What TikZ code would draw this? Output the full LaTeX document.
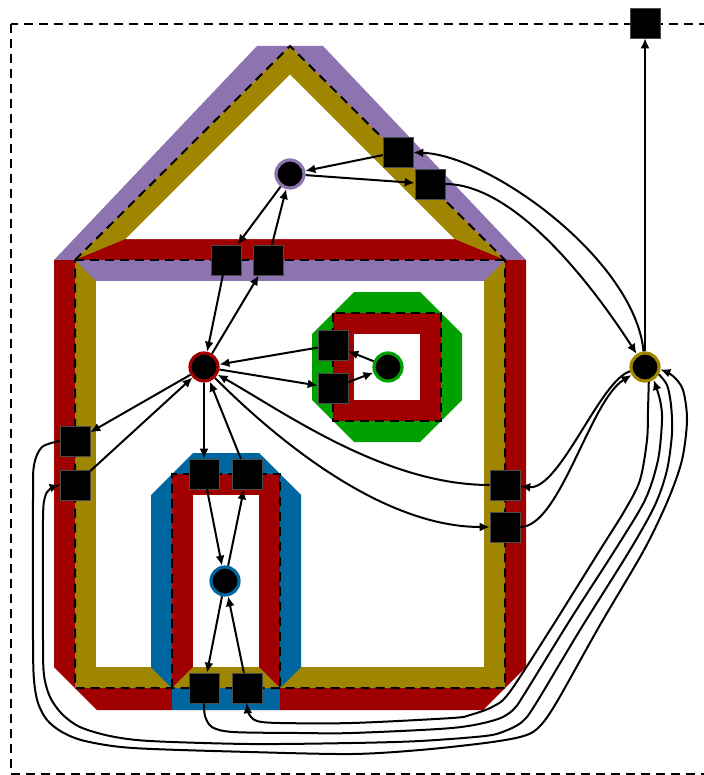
\documentclass[tikz,border=0pt]{standalone}
\usepackage{tikz}
\usetikzlibrary{arrows.meta}
\definecolor{roofc}{HTML}{8D74B0}
\definecolor{bodyc}{HTML}{A00000}
\definecolor{outc}{HTML}{A08600}
\definecolor{winc}{HTML}{00A000}
\definecolor{doorc}{HTML}{0066A0}
\tikzset{
  plan diagram/.style={
    x=0.5pt, y=-0.5pt,
    >={Latex[length=5pt,width=4.5pt]},
    line join=miter
  },
  facenode/.style={
    circle,
    fill=black,
    line width=1.6pt,
    minimum size=14pt,
    inner sep=0pt
  },
  roofnode/.style={facenode, draw=roofc},
  bodynode/.style={facenode, draw=bodyc},
  windownode/.style={facenode, draw=winc},
  doornode/.style={facenode, draw=doorc},
  outnode/.style={facenode, draw=outc},
  dartbox/.style={
    fill=black,
    draw=black!70,
    line width=0.3pt,
    minimum size=15pt,
    inner sep=0pt
  },
  flowarrow/.style={
    ->,
    draw=black,
    line width=1pt
  },
  borderline/.style={
    draw=black,
    line width=1pt,
    dash pattern=on 4.5pt off 3pt
  }
}
\begin{document}
\begin{tikzpicture}[plan diagram]
\useasboundingbox (0,0) rectangle (704,775);
% strips outside the house
\fill[roofc] (54,260) -- (257,46) -- (323,46) -- (526,260) -- (505,260) -- (290,46) -- (75,260) -- cycle;
\fill[bodyc] (54,260) -- (526,260) -- (526,667) -- (483,710) -- (97,710) -- (54,667) -- cycle;
\fill[doorc] (172,688) rectangle (280,710);
% roof
\fill[outc] (75,260) -- (290,46) -- (505,260) -- cycle;
\fill[bodyc] (75,260) -- (505,260) -- (454.3,239) -- (125.7,239) -- cycle;
\fill[white] (125.7,239) -- (290,74.7) -- (454.3,239) -- cycle;
% body
\fill[outc] (75,260) rectangle (505,688);
\fill[roofc] (75,260) -- (505,260) -- (484,281) -- (96,281) -- cycle;
\fill[white] (96,281) rectangle (484,667);
% door
\fill[doorc] (151,667) -- (151,495) -- (193,453) -- (259,453) -- (301,495) -- (301,667) -- (280,688) -- (172,688) -- cycle;
\fill[bodyc] (172,474) rectangle (280,688);
\fill[outc] (172,688) -- (193,667) -- (259,667) -- (280,688) -- cycle;
\fill[white] (193,495) rectangle (259,667);
% window
\fill[winc] (354,292) -- (420,292) -- (462,334) -- (462,400) -- (420,442) -- (354,442) -- (312,400) -- (312,334) -- cycle;
\fill[bodyc] (333,313) rectangle (441,421);
\fill[white] (354,334) rectangle (420,400);
% boundaries
\draw[borderline] (75,260) -- (290,46) -- (505,260) -- (505,688) -- (75,688) -- cycle;
\draw[borderline] (75,260) -- (505,260);
\draw[borderline] (172,688) -- (172,474) -- (280,474) -- (280,688);
\draw[borderline] (333,313) rectangle (441,421);
\draw[borderline] (11,24) rectangle (712,774);

\node[roofnode] (roof) at (290,174) {};
\node[bodynode] (body) at (204,367) {};
\node[windownode] (window) at (388,367) {};
\node[doornode] (door) at (225,581) {};
\node[outnode] (outside) at (645,367) {};

\node[dartbox] (slopeA) at (398,152) {};
\node[dartbox] (slopeB) at (430,184) {};
\node[dartbox] (eaveA) at (226,260) {};
\node[dartbox] (eaveB) at (268,260) {};
\node[dartbox] (winA) at (333,345) {};
\node[dartbox] (winB) at (333,388) {};
\node[dartbox] (wallA) at (75,441) {};
\node[dartbox] (wallB) at (75,485) {};
\node[dartbox] (lintA) at (204,474) {};
\node[dartbox] (lintB) at (247,474) {};
\node[dartbox] (sillA) at (204,688) {};
\node[dartbox] (sillB) at (247,688) {};
\node[dartbox] (rwallA) at (505,485) {};
\node[dartbox] (rwallB) at (505,527) {};
\node[dartbox] (top) at (645,23) {};

\draw[flowarrow] (slopeA) -- (roof);
\draw[flowarrow] (roof) -- (slopeB);
\draw[flowarrow] (roof) -- (eaveA);
\draw[flowarrow] (eaveA) -- (body);
\draw[flowarrow] (body) -- (eaveB);
\draw[flowarrow] (eaveB) -- (roof);
\draw[flowarrow] (winA) -- (body);
\draw[flowarrow] (body) -- (winB);
\draw[flowarrow] (window) -- (winA);
\draw[flowarrow] (winB) -- (window);
\draw[flowarrow] (body) -- (wallA);
\draw[flowarrow] (wallB) -- (body);
\draw[flowarrow] (body) -- (lintA);
\draw[flowarrow] (lintB) -- (body);
\draw[flowarrow] (lintA) -- (door);
\draw[flowarrow] (door) -- (lintB);
\draw[flowarrow] (door) -- (sillA);
\draw[flowarrow] (sillB) -- (door);
\draw[flowarrow] (outside) -- (top);
\draw[flowarrow] (rwallA) .. controls (385,485) and (284,412) .. (body);
\draw[flowarrow] (body) .. controls (264,427) and (375,527) .. (rwallB);
\draw[flowarrow] (outside) .. controls (600,380) and (560,490) .. (rwallA);
\draw[flowarrow] (rwallB) .. controls (560,527) and (590,400) .. (outside);
\draw[flowarrow] (outside) .. controls (635,260) and (490,155) .. (slopeA);
\draw[flowarrow] (slopeB) .. controls (520,184) and (602,300) .. (outside);
% long loops round the house
\draw[flowarrow] plot[smooth] coordinates {(wallA.west) (42,447) (34,465) (33,500) (33,640) (34,680) (38,703) (47,720) (62,732) (85,741) (133,748) (250,752) (352,754) (420,750) (485,743) (520,737) (537,729) (555,705) (600,625) (644,550) (668,500) (682,460) (687,420) (683,390) (673,376) (outside.-9)};
\draw[flowarrow] plot[smooth] coordinates {(outside.-28) (667,385) (671,405) (672,433) (667,470) (655,505) (630,550) (580,630) (535,705) (522,722) (505,731) (485,736) (420,741) (352,743) (250,744) (150,741) (110,736) (80,727) (62,714) (50,697) (44,675) (43,640) (43,520) (45,497) (50,489) (wallB.west)};
\draw[flowarrow] plot[smooth] coordinates {(sillA.south) (205,716) (212,727) (233,732) (300,733) (352,733) (452,728) (495,720) (513,710) (525,693) (570,620) (615,550) (645,500) (658,460) (662,420) (660,400) (outside.-56)};
\draw[flowarrow] plot[smooth] coordinates {(outside.-76) (648,410) (647,440) (640,480) (625,510) (600,550) (550,630) (509,693) (492,707) (470,715) (452,718) (352,723) (280,723) (257,721) (249,714) (sillB.south)};
\end{tikzpicture}
\end{document}
